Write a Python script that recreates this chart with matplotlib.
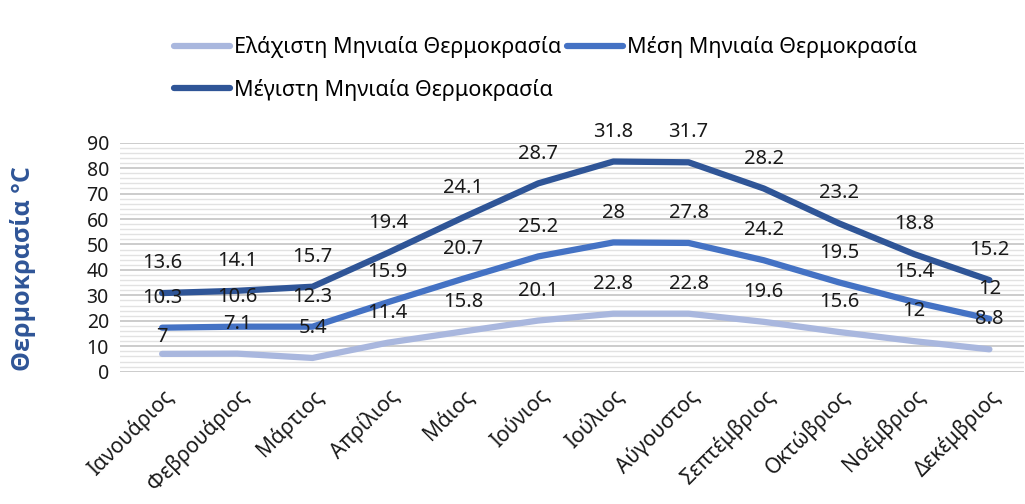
import numpy as np
import matplotlib.pyplot as plt
from matplotlib.ticker import MultipleLocator

# ==========================================
# DATOS
# ==========================================
meses = ['Ιανουάριος', 'Φεβρουάριος', 'Μάρτιος', 'Απρίλιος', 'Μάιος', 'Ιούνιος',
         'Ιούλιος', 'Αύγουστος', 'Σεπτέμβριος', 'Οκτώβριος', 'Νοέμβριος', 'Δεκέμβριος']
t_min = [7, 7.1, 5.4, 11.4, 15.8, 20.1, 22.8, 22.8, 19.6, 15.6, 12, 8.8]
t_mesi = [10.3, 10.6, 12.3, 15.9, 20.7, 25.2, 28, 27.8, 24.2, 19.5, 15.4, 12]
t_max = [13.6, 14.1, 15.7, 19.4, 24.1, 28.7, 31.8, 31.7, 28.2, 23.2, 18.8, 15.2]

nombres = ['Ελάχιστη Μηνιαία Θερμοκρασία', 'Μέση Μηνιαία Θερμοκρασία',
           'Μέγιστη Μηνιαία Θερμοκρασία']
colores = ['#A9B7DE', '#4472C4', '#2F5597']

plt.rcParams['font.family'] = ['Noto Sans', 'DejaVu Sans']

# gráfico de líneas apiladas (como en Excel)
series = [np.array(t_min), np.array(t_mesi), np.array(t_max)]
acumulado = np.cumsum(series, axis=0)
x = np.arange(len(meses))

fig = plt.figure(figsize=(10.25, 5.04), dpi=100)
ax = fig.add_axes([120 / 1025, 1 - 371.7 / 504, 904 / 1025, 229 / 504])

lineas = []
for serie, acc, nombre, color in zip(series, acumulado, nombres, colores):
    ln, = ax.plot(x, acc, color=color, linewidth=4.5, solid_capstyle='round',
                  solid_joinstyle='round', label=nombre, zorder=3)
    lineas.append(ln)
    for i, (v, y) in enumerate(zip(serie, acc)):
        dy = 21.5
        if nombre == nombres[0] and i == 0:
            dy = 12
        ax.annotate(f'{v:g}', (x[i], y), xytext=(0, dy), textcoords='offset points',
                    ha='center', va='center', fontsize=14.5, color='#1a1a1a', zorder=4)

ax.set_xlim(-0.56, 11.46)
ax.set_ylim(0, 90)
ax.yaxis.set_major_locator(MultipleLocator(10))
ax.yaxis.set_minor_locator(MultipleLocator(2))
ax.grid(True, which='major', axis='y', color='#c8c8c8', linewidth=1.3, zorder=0)
ax.grid(True, which='minor', axis='y', color='#e2e2e2', linewidth=1.0, zorder=0)
ax.set_axisbelow(True)
for s in ax.spines.values():
    s.set_visible(False)
ax.tick_params(axis='both', which='both', length=0)
ax.tick_params(axis='y', labelsize=14, pad=8, labelcolor='#1a1a1a')
ax.set_xticks(x)
ax.set_xticklabels(meses, rotation=45, ha='right', rotation_mode='anchor',
                   fontsize=15, color='#1a1a1a')
ax.tick_params(axis='x', pad=10)

ax.set_ylabel('Θερμοκρασία °C', fontsize=18, fontweight='bold', color='#2F5597',
              family=['Open Sans', 'DejaVu Sans'], va='center')
ax.yaxis.set_label_coords(-0.107, 0.45)

orden = [lineas[0], lineas[2], lineas[1]]
fig.legend(orden, [l.get_label() for l in orden], ncol=2, loc='upper left',
           bbox_to_anchor=(155 / 1025, 1 - 17 / 504), frameon=False, fontsize=15.5,
           handlelength=2.6, handletextpad=0.15, columnspacing=0.3, labelspacing=0.95)

plt.savefig('out.png', dpi=100)
